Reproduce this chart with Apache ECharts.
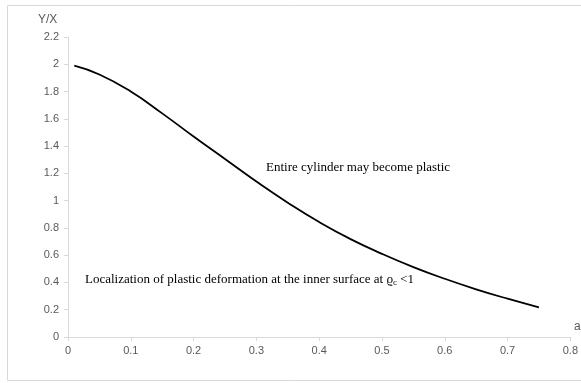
<!DOCTYPE html>
<html><head><meta charset="utf-8">
<script src="https://cdn.jsdelivr.net/npm/echarts@6/dist/echarts.min.js"></script>
<style>html,body{margin:0;padding:0;background:#fff}#c{width:581px;height:383px}</style>
</head><body><div id="c"></div>
<script>
const xValues = [0.01, 0.05, 0.1, 0.15, 0.2, 0.25, 0.3, 0.35, 0.4, 0.45, 0.5, 0.55, 0.6, 0.65, 0.7, 0.75];
const yValues = [1.99, 1.925, 1.80, 1.64, 1.47, 1.305, 1.14, 0.985, 0.843, 0.718, 0.61, 0.513, 0.427, 0.35, 0.281, 0.218];
const xTicks = [0, 0.1, 0.2, 0.3, 0.4, 0.5, 0.6, 0.7, 0.8];
const yTicks = [0, 0.2, 0.4, 0.6, 0.8, 1, 1.2, 1.4, 1.6, 1.8, 2, 2.2];

const chart = echarts.init(document.getElementById('c'), null, {renderer: 'canvas'});
const labelFont = {color: '#595959', fontSize: 11, fontFamily: 'Liberation Sans'};
const serif = 'Liberation Serif';
chart.setOption({
  animation: false,
  grid: {left: 68, top: 37, right: 3.4, bottom: 46},
  xAxis: {
    type: 'value', min: xTicks[0], max: xTicks[xTicks.length - 1], interval: 0.1,
    axisLine: {show: true, lineStyle: {color: '#d9d9d9'}},
    axisTick: {show: true, length: 4, lineStyle: {color: '#d9d9d9'}},
    splitLine: {show: false},
    axisLabel: Object.assign({margin: 8, formatter: v => String(+v.toFixed(1))}, labelFont)
  },
  yAxis: {
    type: 'value', min: yTicks[0], max: yTicks[yTicks.length - 1], interval: 0.2,
    axisLine: {show: true, lineStyle: {color: '#d9d9d9'}},
    axisTick: {show: true, length: 4, lineStyle: {color: '#d9d9d9'}},
    splitLine: {show: false},
    axisLabel: Object.assign({margin: 9, formatter: v => String(+v.toFixed(1))}, labelFont)
  },
  series: [{
    type: 'line', smooth: 0.5, symbol: 'none',
    lineStyle: {color: '#000', width: 1.8},
    data: xValues.map((x, i) => [x, yValues[i]])
  }],
  graphic: [
    {type: 'rect', shape: {x: 7.5, y: 5.5, width: 600, height: 375}, style: {fill: 'none', stroke: '#d9d9d9', lineWidth: 1}, silent: true},
    {type: 'text', left: 38, top: 14, style: {text: 'Y/X', fill: '#595959', font: '12px Liberation Sans'}},
    {type: 'text', left: 574, top: 321, style: {text: 'a', fill: '#595959', font: '12px Liberation Sans'}},
    {type: 'text', left: 266, top: 161, style: {text: 'Entire cylinder may become plastic', fill: '#000', font: '13px ' + serif}},
    {type: 'text', left: 85, top: 273, style: {
      text: '{n|Localization of plastic deformation at the inner surface at }{r|ϱ}{s|c}{n| <1}',
      rich: {
        n: {fill: '#000', fontSize: 13, fontFamily: serif},
        r: {fill: '#000', fontSize: 13, fontFamily: serif},
        s: {fill: '#000', fontSize: 9, fontFamily: serif, padding: [6, 0, 0, 0]}
      }
    }}
  ]
});
</script></body></html>
